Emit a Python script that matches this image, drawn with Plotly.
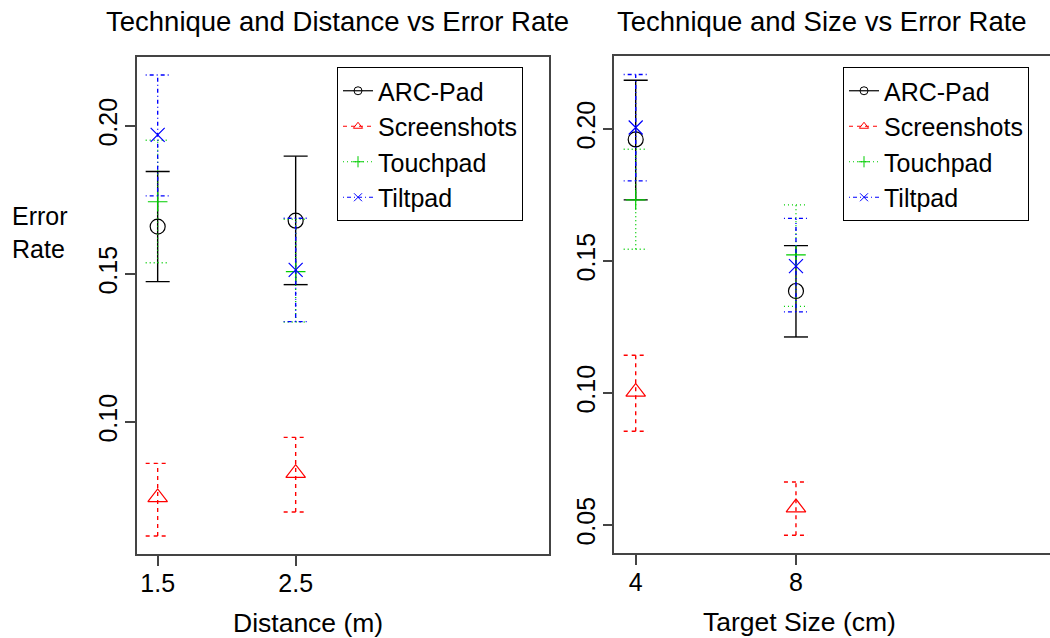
import plotly.graph_objects as go

W, H = 1050, 638

series = ["ARC-Pad", "Screenshots", "Touchpad", "Tiltpad"]
colors = ["#000000", "#FF0000", "#00CD00", "#0000FF"]
dashes = ["solid", "4px,4px", "1px,3px", "1px,3px,4px,3px"]
symbols = ["circle-open", "triangle-up-open", "cross-thin-open", "x-thin-open"]
msizes = [15, 17, 14, 14]

# Panel 1: distance
distance = [1.5, 2.5]
dist_tick_labels = ["1.5", "2.5"]
arc_dist_mean = [0.166, 0.168]
arc_dist_lo = [0.1474, 0.1464]
arc_dist_hi = [0.1846, 0.1898]
scr_dist_mean = [0.0745, 0.0827]
scr_dist_lo = [0.0615, 0.0696]
scr_dist_hi = [0.0860, 0.0948]
tou_dist_mean = [0.1744, 0.1508]
tou_dist_lo = [0.1538, 0.1338]
tou_dist_hi = [0.1952, 0.1685]
til_dist_mean = [0.1970, 0.1514]
til_dist_lo = [0.1764, 0.1339]
til_dist_hi = [0.2172, 0.1688]

# Panel 2: target size
size = [4, 8]
size_tick_labels = ["4", "8"]
arc_size_mean = [0.196, 0.1386]
arc_size_lo = [0.1731, 0.1212]
arc_size_hi = [0.2184, 0.1558]
scr_size_mean = [0.1004, 0.0566]
scr_size_lo = [0.0855, 0.0461]
scr_size_hi = [0.1143, 0.0663]
tou_size_mean = [0.1731, 0.1523]
tou_size_lo = [0.1544, 0.1328]
tou_size_hi = [0.1923, 0.1712]
til_size_mean = [0.2005, 0.1480]
til_size_lo = [0.1803, 0.1307]
til_size_hi = [0.2206, 0.1661]

dist_yticks = [0.10, 0.15, 0.20]
size_yticks = [0.05, 0.10, 0.15, 0.20]

dist_data = [(arc_dist_mean, arc_dist_lo, arc_dist_hi),
             (scr_dist_mean, scr_dist_lo, scr_dist_hi),
             (tou_dist_mean, tou_dist_lo, tou_dist_hi),
             (til_dist_mean, til_dist_lo, til_dist_hi)]
size_data = [(arc_size_mean, arc_size_lo, arc_size_hi),
             (scr_size_mean, scr_size_lo, scr_size_hi),
             (tou_size_mean, tou_size_lo, tou_size_hi),
             (til_size_mean, til_size_lo, til_size_hi)]

FONT = "Liberation Sans, Arial, sans-serif"
fig = go.Figure()


def add_panel(xs, data, cap, xa, ya, legend_name):
    for i, (mean, lo, hi) in enumerate(data):
        ex, ey = [], []
        for x, l, h in zip(xs, lo, hi):
            ex += [x, x, None, x - cap, x + cap, None, x - cap, x + cap, None]
            ey += [l, h, None, h, h, None, l, l, None]
        fig.add_trace(go.Scatter(x=ex, y=ey, mode="lines", xaxis=xa, yaxis=ya,
                                 line=dict(color=colors[i], width=1.4, dash=dashes[i]),
                                 showlegend=False, hoverinfo="skip"))
        fig.add_trace(go.Scatter(x=xs, y=mean, mode="markers", xaxis=xa, yaxis=ya,
                                 marker=dict(symbol=symbols[i], size=msizes[i], color=colors[i],
                                             line=dict(color=colors[i], width=1.2)),
                                 showlegend=False, name=series[i]))
    for i in range(4):
        fig.add_trace(go.Scatter(x=[None], y=[None], mode="lines+markers", xaxis=xa, yaxis=ya,
                                 name=series[i], legend=legend_name,
                                 line=dict(color=colors[i], width=1.2, dash=dashes[i]),
                                 marker=dict(symbol=symbols[i], size=8, color=colors[i],
                                             line=dict(color=colors[i], width=1))))


add_panel(distance, dist_data, 0.087, "x", "y", "legend")
add_panel(size, size_data, 0.30, "x2", "y2", "legend2")


def px(x):
    return x / W


def py(y):
    return 1 - y / H


axcol = "#444444"
common_x = dict(showline=True, linecolor=axcol, linewidth=1.5, ticks="outside", ticklen=10,
                tickcolor=axcol, tickwidth=1.5, showgrid=False, zeroline=False,
                ticklabelstandoff=-4,
                tickfont=dict(family=FONT, size=25, color="black"))
common_y = dict(showline=True, linecolor=axcol, linewidth=1.5, ticks="outside", ticklen=10,
                tickcolor=axcol, tickwidth=1.5, showgrid=False, zeroline=False, tickangle=-90,
                ticklabelstandoff=-2,
                tickfont=dict(family=FONT, size=25, color="black"))

legend_common = dict(xanchor="left", yanchor="top", bgcolor="white",
                     bordercolor="black", borderwidth=1,
                     font=dict(family=FONT, size=25, color="black"),
                     itemwidth=30, tracegroupgap=0)

fig.update_layout(
    width=W, height=H, margin=dict(l=0, r=0, t=0, b=0),
    paper_bgcolor="white", plot_bgcolor="white",
    font=dict(family=FONT, color="black"),
    xaxis=dict(domain=[px(136.7), px(549.3)], range=[1.348, 4.338], tickvals=distance,
               ticktext=dist_tick_labels, mirror=True, anchor="y", **common_x),
    yaxis=dict(domain=[py(554), py(56.7)], range=[0.0554, 0.2234], tickvals=dist_yticks,
               ticktext=["%.2f" % v for v in dist_yticks], mirror=True, anchor="x", **common_y),
    xaxis2=dict(domain=[px(614.3), 1.0], range=[3.466, 14.34], tickvals=size,
                ticktext=size_tick_labels, mirror=True, anchor="y2", **common_x),
    yaxis2=dict(domain=[py(553), py(55.7)], range=[0.0394, 0.2277], tickvals=size_yticks,
                ticktext=["%.2f" % v for v in size_yticks], mirror=False, anchor="x2", **common_y),
    legend=dict(x=px(337), y=py(67), **legend_common),
    legend2=dict(x=px(843), y=py(67), **legend_common),
    annotations=[
        dict(text="Technique and Distance vs Error Rate", x=px(337), y=py(22), xref="paper",
             yref="paper", xanchor="center", yanchor="middle", showarrow=False,
             font=dict(family=FONT, size=27.5)),
        dict(text="Technique and Size vs Error Rate", x=px(822), y=py(22), xref="paper",
             yref="paper", xanchor="center", yanchor="middle", showarrow=False,
             font=dict(family=FONT, size=27.5)),
        dict(text="Distance (m)", x=px(308), y=py(623), xref="paper", yref="paper",
             xanchor="center", yanchor="middle", showarrow=False, font=dict(family=FONT, size=26.5)),
        dict(text="Target Size (cm)", x=px(799), y=py(622), xref="paper", yref="paper",
             xanchor="center", yanchor="middle", showarrow=False, font=dict(family=FONT, size=26.5)),
        dict(text="Error<br>Rate", x=px(10), y=py(232), xref="paper", yref="paper",
             xanchor="left", yanchor="middle", align="left", showarrow=False,
             font=dict(family=FONT, size=25)),
    ],
)

fig.write_html("out.html")
